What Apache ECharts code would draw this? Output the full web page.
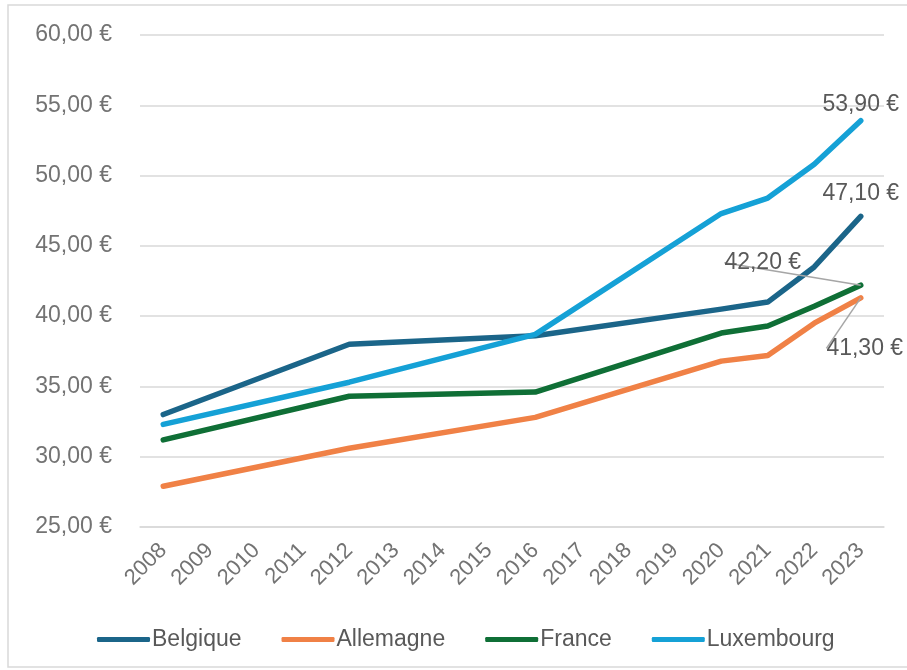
<!DOCTYPE html>
<html>
<head>
<meta charset="utf-8">
<script src="https://cdn.jsdelivr.net/npm/echarts@6/dist/echarts.min.js"></script>
<style>
html, body { margin: 0; padding: 0; background: #fff; }
#chart { width: 907px; height: 670px; }
</style>
</head>
<body>
<div id="chart"></div>
<script>
var years = ['2008', '2009', '2010', '2011', '2012', '2013', '2014', '2015', '2016', '2017', '2018', '2019', '2020', '2021', '2022', '2023'];
// valeurs (null = année sans donnée, reliée par la ligne)
var belgique = [33.0, null, null, null, 38.0, null, null, null, 38.6, null, null, null, 40.5, 41.0, 43.5, 47.1];
var allemagne = [27.9, null, null, null, 30.6, null, null, null, 32.8, null, null, null, 36.8, 37.2, 39.5, 41.3];
var france = [31.2, null, null, null, 34.3, null, null, null, 34.6, null, null, null, 38.8, 39.3, 40.7, 42.2];
var luxembourg = [32.3, null, null, null, 35.3, null, null, null, 38.7, null, null, null, 47.3, 48.4, 50.8, 53.9];

var yMin = 25, yMax = 60, yStep = 5;

var chart = echarts.init(document.getElementById('chart'));

function euro(v) {
	return v.toFixed(2).replace('.', ',') + ' €';
}

// étiquette seulement sur le dernier point
function lastLabel(arr, label) {
	return arr.map(function (v, i) {
		if (i === arr.length - 1) {
			return { value: v, label: label };
		}
		return v;
	});
}

var labelFont = { fontFamily: 'Liberation Sans', fontSize: 23, color: '#595959' };

function serie(name, color, data, label, layout, len2) {
	var s = {
		name: name,
		type: 'line',
		data: lastLabel(data, Object.assign({ show: true, formatter: function (p) { return euro(p.value); } }, labelFont, label)),
		connectNulls: true,
		symbol: 'circle',
		symbolSize: 0,
		showSymbol: true,
		showAllSymbol: true,
		lineStyle: { color: color, width: 5.5, cap: 'round', join: 'round' },
		itemStyle: { color: color },
		label: { show: false },
		z: 2
	};
	if (layout) {
		s.labelLayout = layout;
		s.labelLine = { show: true, length2: len2, lineStyle: { color: '#a6a6a6', width: 1.5 } };
	}
	return s;
}

var option = {
	backgroundColor: '#fff',
	animation: false,
	graphic: [{
		type: 'rect',
		shape: { x: 8, y: 5, width: 905, height: 662 },
		style: { fill: 'none', stroke: '#d9d9d9', lineWidth: 1.5 },
		silent: true
	}],
	grid: { left: 140, right: 23, top: 35, bottom: 143 },
	legend: {
		left: 92,
		top: 623,
		itemWidth: 53,
		itemHeight: 5,
		itemGap: 40,
		icon: 'roundRect',
		textStyle: { fontFamily: 'Liberation Sans', fontSize: 23, color: '#595959', padding: [0, 0, 0, -3] },
		data: ['Belgique', 'Allemagne', 'France', 'Luxembourg']
	},
	xAxis: {
		type: 'category',
		data: years,
		boundaryGap: true,
		axisTick: { show: false },
		axisLine: { lineStyle: { color: '#d9d9d9', width: 1.5 } },
		axisLabel: { rotate: 45, fontFamily: 'Liberation Sans', fontSize: 22, color: '#737373', margin: 20, interval: 0 }
	},
	yAxis: {
		type: 'value',
		min: yMin,
		max: yMax,
		interval: yStep,
		axisLine: { show: false },
		axisTick: { show: false },
		splitLine: { lineStyle: { color: '#d9d9d9', width: 1.5 } },
		axisLabel: { formatter: euro, fontFamily: 'Liberation Sans', fontSize: 23, color: '#737373', margin: 28 }
	},
	series: [
		serie('Belgique', '#1B6589', belgique, { position: 'top', offset: [0, -6] }),
		serie('Allemagne', '#F08146', allemagne, { position: 'bottom' }, function () { return { dy: 34, dx: 4 }; }, 12),
		serie('France', '#0F6F36', france, { position: 'top' }, function () { return { dx: -98, dy: -6 }; }, 12),
		serie('Luxembourg', '#15A1D6', luxembourg, { position: 'top', offset: [0, 0] })
	]
};

chart.setOption(option);
</script>
</body>
</html>
